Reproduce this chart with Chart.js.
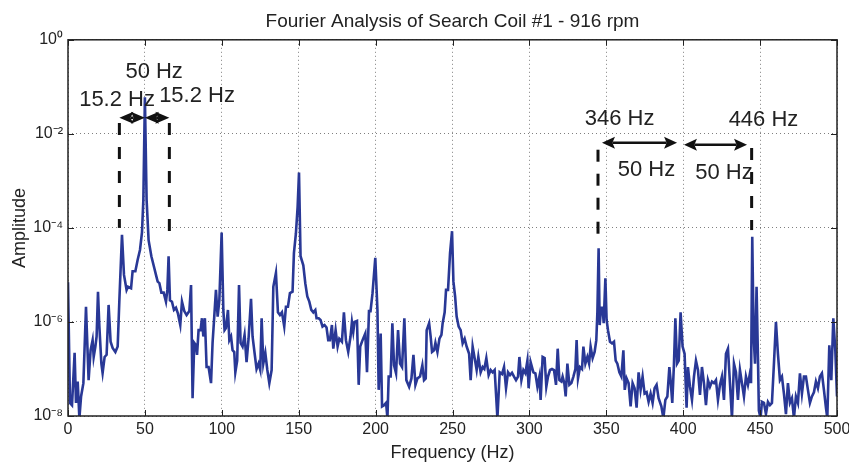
<!DOCTYPE html>
<html>
<head>
<meta charset="utf-8">
<script src="https://cdn.jsdelivr.net/npm/chart.js@4.4.0/dist/chart.umd.min.js"></script>
<style>
  html, body { margin: 0; padding: 0; background: #fff; }
  canvas { display: block; }
</style>
</head>
<body>
<canvas id="chartFourier" width="849" height="466"></canvas>
<script>
// Espectro: frequência (Hz) e amplitude, em linhas de 10 pontos
const freqHz = [
  0, 1.3, 2.6, 4.3, 5.2, 6.3, 7.4, 8.5, 10, 11.7,
  13.4, 14.7, 16, 16.7, 17.8, 18.6, 19.5, 20.4, 21.7, 22.5,
  23.8, 25.1, 26.4, 27.7, 29, 30.8, 32.3, 33.4, 35.1, 36.4,
  38.1, 39, 41, 42, 43.8, 45.3, 46.8, 48.1, 49, 50,
  51.1, 52.4, 54.2, 56.1, 57.2, 58.3, 59.4, 60.7, 62.2, 63.7,
  64.6, 65.4, 66.3, 67.6, 68.9, 70.2, 71.5, 73, 74.1, 75.6,
  77.1, 78.9, 80, 81, 82.1, 83.2, 83.9, 84.9, 86.2, 87.1,
  88, 89, 90.1, 91.4, 93, 94, 95.1, 96.2, 97.3, 98.4,
  99.9,
  101, 101.8, 102.7, 104, 104.9, 106, 107, 108.1, 108.8, 110,
  111.2, 112.2, 113.5, 114.8, 116.1, 117.4, 119, 120, 121.3, 122.6,
  123.9, 125, 125.9, 127, 128.3, 129.6, 130.9, 132.4, 133.5, 135.2,
  136.5, 137.8, 139.1, 140.6, 141.7, 143, 144.3, 146, 146.9, 148.2,
  149.3, 150.2, 151.2, 153, 154.3, 155.6, 156.9, 158.2, 159.5, 160.8,
  161.6, 163, 164.2, 165.5, 166.8, 168.1, 169.2, 170.3, 171.6, 172.5,
  174, 175.3, 176.4, 178.1, 179.4, 180.7, 182.2, 183.7, 184.6, 185.5,
  186.3, 187.9, 189, 190, 191.5, 193.3, 194.4, 195.7, 196.7, 198,
  199.8,
  201.2, 202, 203.3, 204.2, 205.5, 206.8, 207.7, 208.5, 209.8, 210.9,
  212, 213.3, 214.6, 215.9, 217.2, 218.7, 220, 221.8, 223.3, 224.6,
  225.9, 227.2, 228.9, 230.4, 231.5, 232.6, 233.2, 234.8, 235.8, 236.7,
  238, 238.9, 240.2, 241.5, 242.8, 243.6, 244.9, 245.8, 247.1, 248.4,
  249.7, 250.6, 251.7, 252.7, 254, 255.3, 256.6, 257.9, 259.2, 260.8,
  261.8, 263.1, 264.4, 265.7, 266.8, 268.3, 269.6, 270.7, 272, 273.5,
  274.8, 276.1, 277.4, 279.2, 280.7, 282.2, 283.5, 284.8, 286.1, 287.4,
  288.7, 290, 291.3, 292.6, 293.5, 294.8, 296.1, 297.4, 298.7, 299.5,
  300.8, 302.6, 303.9, 305.2, 306.5, 307.3, 308.6, 309.9, 311, 312.1,
  313.4, 314.7, 316, 317.3, 318.4, 319.5, 320.8, 321.6, 322.7, 323.6,
  324.7, 326, 327.3, 328.6, 329.9, 330.7, 331.6, 332.9, 334.2, 335.1,
  336.4, 337.7, 338.8, 339.8, 341.1, 342.4, 343.5, 344.2, 345, 345.7,
  346.6, 347.6, 348.3, 349.4, 350.2, 351.1, 352.4, 353.7, 355, 356.1,
  357.2, 358.5, 359.8, 361.1, 362, 363.2, 364.5, 365.8, 367.1, 368.4,
  369.7, 371, 372.3, 373.6, 374.9, 376.2, 377.5, 378.8, 380.1, 381.4,
  382.7, 384, 385.8, 387.1, 388.4, 389.7, 391, 391.8, 392.9, 394,
  394.9, 396, 397.1, 398.3, 399.6,
  400.9, 402.2, 403.1, 404.4, 405.7, 407, 408.3, 409.6, 410.9, 412.2,
  413.5, 414.8, 416.1, 417.4, 418.7, 420, 421.3, 422.6, 423.9, 425.2,
  426.5, 427.8, 429.1, 430.4, 431.7, 433, 434.3, 435.6, 436.9, 438.2,
  439.5, 440.8, 442.1, 443.2, 444.1, 444.9, 445.8, 446.7, 447.7, 448.6,
  449.2, 450.3, 451.2, 452.5, 453.8, 455.1, 456.4, 457.7, 459, 460.3,
  461.6, 462.9, 464.2, 465.5, 466.8, 468.1, 469.4, 470.7, 472, 473.3,
  474.6, 475.9, 477.2, 478.5, 479.8, 481.1, 482.4, 483.7, 485, 486.3,
  487.6, 488.9, 490.2, 491.5, 492.8, 493.7, 495, 496.3, 497.6, 498.9,
  500
];

const amplitude = [
  7e-6, 1.9e-8, 1.7e-8, 2.2e-7, 1.9e-8, 5.4e-8, 9e-9, 2.6e-8, 5e-8, 2.1e-6,
  5.8e-8, 2.5e-7, 4.1e-7, 1.8e-7, 3e-7, 4.9e-7, 4.4e-6, 8e-7, 1.3e-7, 8.2e-8,
  1.8e-7, 2e-7, 2.3e-6, 3.8e-7, 2.8e-7, 2.3e-7, 3e-7, 2.9e-6, 7.1e-5, 1e-5,
  4.8e-6, 5.6e-6, 5.2e-6, 1.2e-5, 1.2e-5, 2.1e-5, 3.4e-5, 8e-5, 4e-4, 6e-2,
  4e-4, 5.5e-5, 2.5e-5, 1.4e-5, 1e-5, 7.2e-6, 6.7e-6, 4.2e-6, 4.2e-6, 2.7e-6,
  4.8e-6, 2.5e-5, 2.9e-6, 2.7e-6, 1.8e-6, 2e-6, 1.5e-6, 8.6e-7, 2.7e-6, 1.7e-6,
  1.4e-6, 1.7e-6, 6.1e-6, 2.4e-8, 3.6e-7, 3.2e-7, 2e-7, 6.7e-7, 6.7e-7, 1.2e-6,
  4.9e-7, 1.2e-6, 1.1e-7, 1.1e-7, 5e-8, 3.6e-7, 1.3e-6, 4.8e-6, 1.3e-6, 2.9e-6,
  8e-5,
  1.8e-6, 6.7e-7, 7.4e-7, 1.8e-6, 4.1e-7, 4.9e-7, 2.5e-7, 2.3e-7, 8.5e-8, 1.5e-7,
  6.1e-6, 3.6e-7, 3e-7, 5.3e-7, 1.4e-7, 4.4e-7, 3.1e-6, 4.9e-7, 2.2e-7, 1e-7,
  1.3e-7, 9.5e-8, 1.2e-6, 1.3e-7, 2.2e-7, 9.5e-8, 5e-8, 9.5e-8, 5.6e-6, 1.1e-5,
  1.6e-6, 1.4e-6, 1.6e-6, 8e-7, 2.1e-6, 2.1e-6, 4.1e-6, 4.4e-6, 2.9e-5, 7.7e-5,
  2.8e-4, 1.5e-3, 2.5e-5, 1.6e-5, 6.6e-6, 3.5e-6, 2.7e-6, 1.8e-6, 1.6e-6, 1.8e-6,
  1.2e-6, 1.2e-6, 1.1e-6, 8e-7, 8.6e-7, 7.6e-7, 4.1e-7, 4.1e-7, 8.6e-7, 2.7e-7,
  6.7e-7, 3e-7, 4.4e-7, 3.8e-7, 1.6e-6, 4.1e-7, 2.3e-7, 4.9e-7, 1e-6, 6.2e-7,
  1e-6, 1.05e-6, 4.6e-8, 3e-7, 4.1e-7, 5.7e-7, 8.5e-8, 1.7e-6, 1.7e-6, 4.1e-6,
  2.3e-5,
  1.8e-6, 3.6e-8, 5.7e-7, 1.6e-8, 1.7e-8, 1.9e-8, 9e-9, 6.9e-8, 6.9e-8, 9.4e-7,
  1.2e-7, 8.1e-8, 6.7e-7, 1.3e-7, 1.1e-7, 1.2e-6, 5.8e-8, 4.2e-8, 6.3e-8, 2e-7,
  4.6e-8, 6.3e-8, 6.9e-8, 1.2e-7, 5.8e-8, 6.3e-8, 6.7e-7, 9.4e-7, 4.9e-7, 2.3e-7,
  2.5e-7, 3.6e-7, 2.3e-7, 4.4e-7, 5.3e-7, 9.4e-7, 1.6e-6, 4.8e-6, 4.8e-6, 2.9e-5,
  8.5e-5, 7.2e-6, 3.5e-6, 1.3e-6, 8e-7, 6.7e-7, 3.5e-7, 4.4e-7, 3e-7, 2.1e-7,
  5.8e-8, 3e-7, 1.7e-7, 9.5e-8, 1.8e-7, 8.5e-8, 1.1e-7, 1e-7, 1.7e-7, 7.4e-8,
  9.5e-8, 8.5e-8, 9.5e-8, 9e-9, 8.5e-8, 7.8e-8, 1.1e-7, 3.9e-8, 8.5e-8, 7.4e-8,
  8.3e-8, 6.9e-8, 5.8e-8, 6.9e-8, 1.8e-7, 5.8e-8, 9.5e-8, 8.1e-8, 1.5e-7, 3.9e-8,
  1.4e-7, 8.5e-8, 8.1e-8, 4.2e-8, 6.9e-8, 2.2e-8, 1.8e-7, 1.7e-7, 4.2e-8, 6.9e-8,
  9.5e-8, 1e-7, 9.5e-8, 4.6e-8, 2.7e-7, 5.8e-8, 5.4e-8, 6.9e-8, 5e-8, 2.6e-8,
  1.3e-7, 4.6e-8, 5e-8, 6.9e-8, 1e-7, 4.1e-7, 6.3e-8, 1.1e-7, 1e-7, 3e-7,
  1.3e-7, 1.8e-7, 1.3e-7, 3e-7, 1.7e-7, 2.3e-7, 4.1e-7, 1.6e-6, 3.7e-5, 8.6e-7,
  2e-6, 2e-6, 9.4e-7, 8.5e-6, 1.1e-6, 6.7e-7, 3.8e-7, 3.5e-7, 3.8e-7, 1.5e-7,
  1.3e-7, 8.5e-8, 6.9e-8, 2.5e-7, 3.6e-8, 6.3e-8, 5e-8, 1.6e-8, 5e-8, 3.9e-8,
  1.5e-8, 8.5e-8, 3.6e-8, 6.9e-8, 3e-8, 3.2e-8, 2e-8, 3e-8, 1.9e-8, 3.9e-8,
  4.6e-8, 2.4e-8, 1.6e-8, 9e-9, 2.2e-8, 2.6e-8, 1.1e-7, 5.8e-8, 1.9e-8, 1.3e-7,
  1.2e-6, 1.3e-7, 1.5e-7, 1.6e-6, 3e-7,
  2.1e-7, 1.5e-8, 1.1e-7, 4.2e-8, 2.2e-8, 6.9e-8, 1.5e-7, 9.5e-8, 2.8e-8, 1.1e-7,
  5e-8, 1.7e-8, 5.8e-8, 4.2e-8, 5.4e-8, 5e-8, 5.8e-8, 2.2e-8, 4.6e-8, 6.9e-8,
  2.2e-8, 2.1e-7, 2.7e-7, 5e-8, 9e-9, 1.3e-7, 8.5e-8, 2.2e-8, 9.5e-8, 5e-8,
  2.6e-8, 6.9e-8, 4.6e-8, 7.4e-8, 5e-8, 6.5e-5, 4.9e-7, 1.3e-7, 5.6e-6, 1.8e-7,
  1.3e-8, 9e-9, 2e-8, 1.9e-8, 1.1e-8, 2e-8, 1.7e-8, 1.9e-8, 1.3e-7, 1e-6,
  2.1e-7, 5.8e-8, 6.9e-8, 3e-8, 1.1e-8, 5e-8, 1.9e-8, 2.4e-8, 9e-9, 2.6e-8,
  1.9e-8, 8.1e-8, 3e-8, 6.9e-8, 6.9e-8, 3.6e-8, 1.9e-8, 2.6e-8, 3.2e-8, 5.4e-8,
  3.9e-8, 6.9e-8, 8.1e-8, 3.6e-8, 1.5e-8, 9e-9, 3.2e-7, 5.8e-8, 1.2e-6, 2.5e-7,
  2.6e-8
];

const xTicks = [0, 50, 100, 150, 200, 250, 300, 350, 400, 450, 500];
const yTicks = [1e-8, 1e-6, 1e-4, 1e-2, 1];
const yTickLabels = ['10⁻⁸', '10⁻⁶', '10⁻⁴', '10⁻²', '10⁰'];

// Marcações desenhadas sobre o gráfico (em Hz / amplitude)
const dashedMarks = [
  { f: 33.4, top: 1.7e-2, bottom: 1e-4 },
  { f: 65.9, top: 1.7e-2, bottom: 6.3e-5 },
  { f: 344.6, top: 4.6e-3, bottom: 5.5e-5 },
  { f: 444.5, top: 5e-3, bottom: 9e-5 }
];
const arrowMarks = [
  { from: 33.4, to: 50, amp: 2.2e-2, head: 14, half: 6 },
  { from: 50, to: 65.9, amp: 2.2e-2, head: 14, half: 6 },
  { from: 347.2, to: 396, amp: 6.5e-3, head: 13, half: 6 },
  { from: 400.5, to: 441.5, amp: 5.9e-3, head: 13, half: 6 }
];
const textMarks = [
  { text: '50 Hz', f: 56, amp: 0.21 },
  { text: '15.2 Hz', f: 31.9, amp: 0.053 },
  { text: '15.2 Hz', f: 83.9, amp: 0.064 },
  { text: '346 Hz', f: 358.6, amp: 0.021 },
  { text: '446 Hz', f: 452.2, amp: 0.02 },
  { text: '50 Hz', f: 376.1, amp: 1.7e-3 },
  { text: '50 Hz', f: 426.5, amp: 1.45e-3 }
];

Chart.defaults.font.family = '"Liberation Sans", Arial, Helvetica, sans-serif';
Chart.defaults.color = '#222';

const spectrum = freqHz.map((f, i) => ({ x: f, y: amplitude[i] }));

function drawArrow(ctx, x1, x2, y, head, half) {
  ctx.beginPath();
  ctx.moveTo(x1 + head * 0.8, y);
  ctx.lineTo(x2 - head * 0.8, y);
  ctx.stroke();
  ctx.beginPath();
  ctx.moveTo(x1, y);
  ctx.lineTo(x1 + head, y - half);
  ctx.lineTo(x1 + head * 0.8, y);
  ctx.lineTo(x1 + head, y + half);
  ctx.closePath();
  ctx.fill();
  ctx.beginPath();
  ctx.moveTo(x2, y);
  ctx.lineTo(x2 - head, y - half);
  ctx.lineTo(x2 - head * 0.8, y);
  ctx.lineTo(x2 - head, y + half);
  ctx.closePath();
  ctx.fill();
}

const moldura = {
  id: 'moldura',
  afterDatasetsDraw(chart) {
    const ctx = chart.ctx;
    const a = chart.chartArea;
    const sx = chart.scales.x, sy = chart.scales.y;
    ctx.save();

    // caixa e marcas internas dos eixos
    ctx.strokeStyle = '#222';
    ctx.lineWidth = 1.5;
    ctx.strokeRect(a.left, a.top, a.right - a.left, a.bottom - a.top);
    ctx.lineWidth = 1;
    ctx.beginPath();
    xTicks.forEach(v => {
      const px = Math.round(sx.getPixelForValue(v)) + 0.5;
      ctx.moveTo(px, a.bottom); ctx.lineTo(px, a.bottom - 6);
      ctx.moveTo(px, a.top); ctx.lineTo(px, a.top + 6);
    });
    yTicks.forEach(v => {
      const py = Math.round(sy.getPixelForValue(v)) + 0.5;
      ctx.moveTo(a.left, py); ctx.lineTo(a.left + 6, py);
      ctx.moveTo(a.right, py); ctx.lineTo(a.right - 6, py);
    });
    ctx.stroke();

    // linhas tracejadas
    ctx.strokeStyle = '#111';
    ctx.lineWidth = 3;
    ctx.setLineDash([12, 12]);
    dashedMarks.forEach(d => {
      const px = sx.getPixelForValue(d.f);
      ctx.beginPath();
      ctx.moveTo(px, sy.getPixelForValue(d.top));
      ctx.lineTo(px, sy.getPixelForValue(d.bottom));
      ctx.stroke();
    });
    ctx.setLineDash([]);

    // setas duplas
    ctx.fillStyle = '#111';
    ctx.lineWidth = 2.5;
    arrowMarks.forEach(m => {
      drawArrow(ctx, sx.getPixelForValue(m.from), sx.getPixelForValue(m.to),
        sy.getPixelForValue(m.amp), m.head, m.half);
    });

    // textos
    ctx.fillStyle = '#222';
    ctx.font = '22px "Liberation Sans", Arial, sans-serif';
    ctx.textAlign = 'center';
    ctx.textBaseline = 'middle';
    textMarks.forEach(t => {
      ctx.fillText(t.text, sx.getPixelForValue(t.f), sy.getPixelForValue(t.amp));
    });
    ctx.restore();
  }
};

new Chart(document.getElementById('chartFourier'), {
  type: 'line',
  data: {
    datasets: [{
      label: 'Search Coil #1',
      data: spectrum,
      borderColor: '#293896',
      borderWidth: 2.6,
      pointRadius: 0,
      tension: 0,
      fill: false
    }]
  },
  options: {
    responsive: false,
    animation: false,
    devicePixelRatio: 1,
    layout: { padding: { left: 0, right: 12, top: 0, bottom: 0 } },
    scales: {
      x: {
        type: 'linear',
        min: 0,
        max: 500,
        afterFit(scale) {
          scale.height = 50;
          scale.paddingLeft = 0;
          scale.paddingRight = 0;
        },
        afterBuildTicks(axis) { axis.ticks = xTicks.map(v => ({ value: v })); },
        ticks: { font: { size: 16 }, color: '#222', padding: 4, maxRotation: 0 },
        grid: { drawTicks: false, color: 'rgba(0,0,0,0.5)', lineWidth: 1 },
        border: { display: false, dash: [1, 3] },
        title: { display: true, text: 'Frequency (Hz)', font: { size: 18 }, color: '#222', padding: { top: 0, bottom: 2 } }
      },
      y: {
        type: 'logarithmic',
        min: 1e-8,
        max: 1,
        afterFit(scale) { scale.width = 68; },
        afterBuildTicks(axis) { axis.ticks = yTicks.map(v => ({ value: v })); },
        ticks: {
          font: { size: 16 },
          color: '#222',
          padding: 5,
          callback(value) {
            const i = yTicks.indexOf(value);
            return i >= 0 ? yTickLabels[i] : '';
          }
        },
        grid: { drawTicks: false, color: 'rgba(0,0,0,0.5)', lineWidth: 1 },
        border: { display: false, dash: [1, 3] },
        title: { display: true, text: 'Amplitude', font: { size: 18 }, color: '#222', padding: { top: 9, bottom: 0 } }
      }
    },
    plugins: {
      legend: { display: false },
      tooltip: { enabled: false },
      title: {
        display: true,
        fullSize: false,
        text: 'Fourier Analysis of Search Coil #1 - 916 rpm',
        font: { size: 19, weight: 'normal' },
        color: '#222',
        padding: { top: 10, bottom: 7 }
      }
    }
  },
  plugins: [moldura]
});
</script>
</body>
</html>
